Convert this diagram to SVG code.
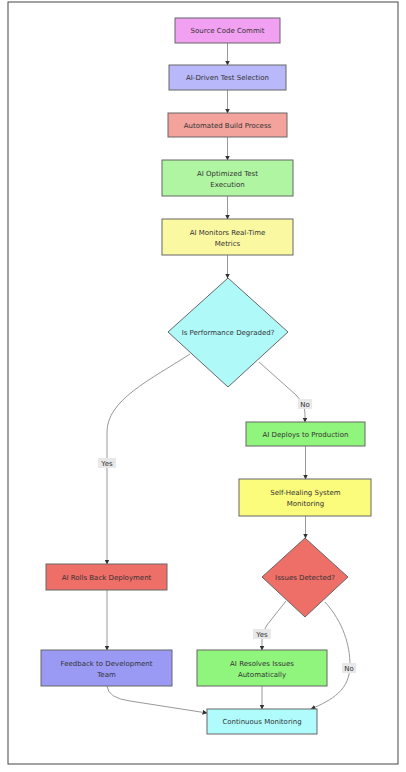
<svg xmlns="http://www.w3.org/2000/svg" width="406" height="772" viewBox="0 0 406 772">
<style>
.n{stroke:#666;stroke-width:1}
.t{font-family:"DejaVu Sans",sans-serif;font-size:7px;fill:#333;text-anchor:middle}
.e{fill:none;stroke:#999;stroke-width:1}
.lb{fill:#e8e8e8}
</style>
<defs>
<marker id="ah" markerWidth="5" markerHeight="5" refX="4.5" refY="2.5" orient="auto" markerUnits="userSpaceOnUse">
<path d="M0,0 L5,2.5 L0,5 z" fill="#333"/>
</marker>
</defs>
<rect x="0" y="0" width="406" height="772" fill="#fff"/>
<rect x="8" y="2" width="390" height="762" fill="#fff" stroke="#444" stroke-width="1"/>
<g id="edges">
<path class="e" d="M227.5,43 L227.5,65" marker-end="url(#ah)"/>
<path class="e" d="M227.5,90 L227.5,113" marker-end="url(#ah)"/>
<path class="e" d="M227.5,137 L227.5,160" marker-end="url(#ah)"/>
<path class="e" d="M227.5,196 L227.5,219" marker-end="url(#ah)"/>
<path class="e" d="M227.5,255 L227.5,278" marker-end="url(#ah)"/>
<path class="e" d="M190,354 C150,380 107,400 107,432 L107,564" marker-end="url(#ah)"/>
<path class="e" d="M259,362 L296,395 Q305,404 305,414 L305,422" marker-end="url(#ah)"/>
<path class="e" d="M305.5,446 L305.5,479" marker-end="url(#ah)"/>
<path class="e" d="M305.5,516 L305.5,538" marker-end="url(#ah)"/>
<path class="e" d="M286,601 L267,625 Q262,632 262,640 L262,650" marker-end="url(#ah)"/>
<path class="e" d="M325,602 C343,622 350,645 350,665 C350,690 332,700 311,709" marker-end="url(#ah)"/>
<path class="e" d="M107,590 L107,650" marker-end="url(#ah)"/>
<path class="e" d="M107,686 Q108,698 130,701 L207,713" marker-end="url(#ah)"/>
<path class="e" d="M262,686 L262,709" marker-end="url(#ah)"/>
<rect class="lb" x="98" y="458" width="18" height="10"/>
<text class="t" x="107" y="465.5">Yes</text>
<rect class="lb" x="298" y="399" width="14" height="10"/>
<text class="t" x="305" y="406.5">No</text>
<rect class="lb" x="253" y="629" width="18" height="10"/>
<text class="t" x="262" y="636.5">Yes</text>
<rect class="lb" x="342" y="663" width="14" height="10"/>
<text class="t" x="349" y="670.5">No</text>
</g>
<g id="n1"><rect class="n" x="175" y="18" width="105" height="25" fill="#f2a0f2"/><text class="t" x="227.5" y="33">Source Code Commit</text></g>
<g id="n2"><rect class="n" x="169" y="65" width="117" height="25" fill="#b8b8fa"/><text class="t" x="227.5" y="80">AI-Driven Test Selection</text></g>
<g id="n3"><rect class="n" x="168" y="113" width="119" height="24" fill="#f3a29c"/><text class="t" x="227.5" y="127.5">Automated Build Process</text></g>
<g id="n4"><rect class="n" x="162" y="160" width="131" height="36" fill="#b0f5a2"/><text class="t" x="227.5" y="175.5">AI Optimized Test</text><text class="t" x="227.5" y="186.5">Execution</text></g>
<g id="n5"><rect class="n" x="162" y="219" width="131" height="36" fill="#fbf8a2"/><text class="t" x="227.5" y="234.5">AI Monitors Real-Time</text><text class="t" x="227.5" y="245.5">Metrics</text></g>
<g id="n6"><path class="n" d="M228,278 L288,332 L228,387 L168,332 z" fill="#b0f9f9"/><text class="t" x="228" y="334.5">Is Performance Degraded?</text></g>
<g id="n7"><rect class="n" x="246" y="422" width="119" height="24" fill="#90f57c"/><text class="t" x="305.5" y="436.5">AI Deploys to Production</text></g>
<g id="n8"><rect class="n" x="239" y="479" width="132" height="37" fill="#fbfb7c"/><text class="t" x="305.5" y="494.5">Self-Healing System</text><text class="t" x="305.5" y="505.5">Monitoring</text></g>
<g id="n9"><path class="n" d="M305,538 L348,577 L305,617 L262,577 z" fill="#ee6e68"/><text class="t" x="305" y="579.5">Issues Detected?</text></g>
<g id="n10"><rect class="n" x="46" y="564" width="121" height="26" fill="#ee6e68"/><text class="t" x="106.5" y="579.5">AI Rolls Back Deployment</text></g>
<g id="n11"><rect class="n" x="41" y="650" width="131" height="36" fill="#9a9af5"/><text class="t" x="106.5" y="665.5">Feedback to Development</text><text class="t" x="106.5" y="676.5">Team</text></g>
<g id="n12"><rect class="n" x="197" y="650" width="130" height="36" fill="#90f57c"/><text class="t" x="262" y="665.5">AI Resolves Issues</text><text class="t" x="262" y="676.5">Automatically</text></g>
<g id="n13"><rect class="n" x="207" y="709" width="110" height="25" fill="#b0fcfc"/><text class="t" x="262" y="724">Continuous Monitoring</text></g>
</svg>
